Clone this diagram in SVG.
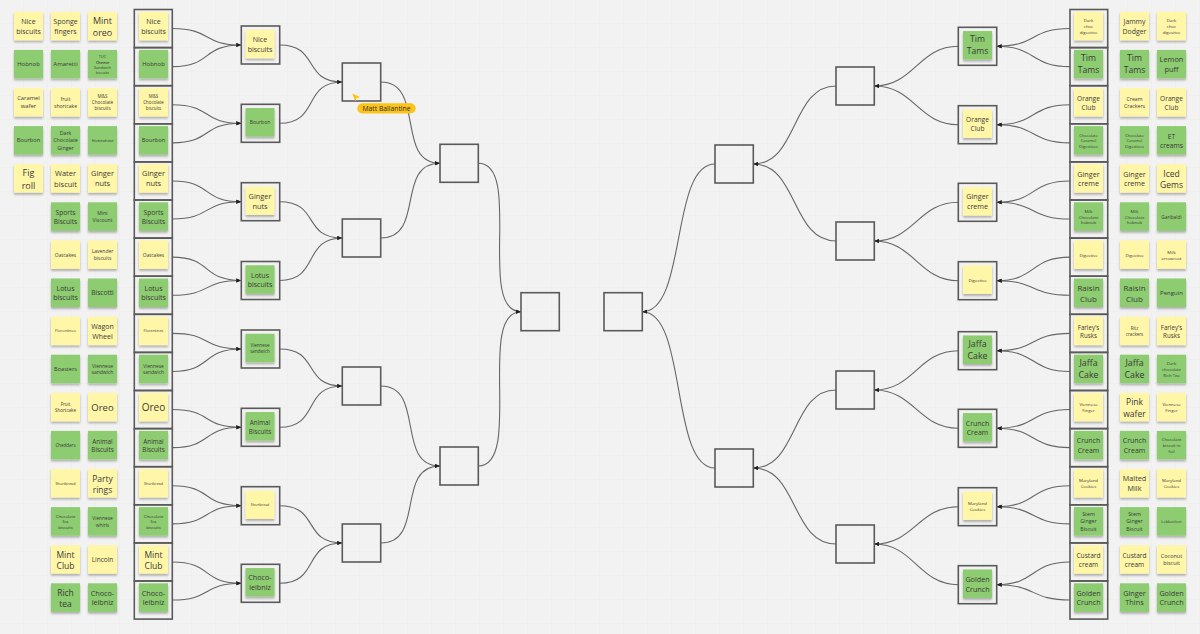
<svg xmlns="http://www.w3.org/2000/svg" width="1200" height="634" viewBox="0 0 1200 634">
<defs>
<style>
.t{font-family:"Open Sans","Liberation Sans",sans-serif;fill:#3a3a3a;text-anchor:middle;dominant-baseline:central}
.y{fill:#fff6a8;filter:url(#sh)}
.g{fill:#8dcc6f;filter:url(#sh)}
.fr{fill:none;stroke:#5a5a5a;stroke-width:1.6}
.c{fill:none;stroke:#666;stroke-width:1.1;marker-end:url(#arr)}
</style>
<filter id="sh" x="-20%" y="-20%" width="140%" height="160%"><feDropShadow dx="0" dy="2" stdDeviation="1" flood-color="#000" flood-opacity="0.28"/></filter>
<marker id="arr" viewBox="0 0 10 10" refX="10" refY="5" markerWidth="5" markerHeight="5" orient="auto" markerUnits="userSpaceOnUse"><path d="M0,1 L10,5 L0,9 z" fill="#222"/></marker>
<pattern id="grid" width="24" height="24" patternUnits="userSpaceOnUse"><path d="M24,0 V24 M0,24 H24" fill="none" stroke="#e9e9e9" stroke-width="0.6"/></pattern>
</defs>
<rect width="1200" height="634" fill="#f2f2f2"/>
<rect width="1200" height="634" fill="url(#grid)"/>

<!-- connectors -->
<g id="connectors">
<path class="c" d="M172.3 28.55 C212.3 28.55 201.3 45 241.3 45"/>
<path class="c" d="M172.3 66.65 C212.3 66.65 201.3 45 241.3 45"/>
<path class="c" d="M172.3 104.75 C212.3 104.75 201.3 123.3 241.3 123.3"/>
<path class="c" d="M172.3 142.85 C212.3 142.85 201.3 123.3 241.3 123.3"/>
<path class="c" d="M172.3 180.95 C212.3 180.95 201.3 201.7 241.3 201.7"/>
<path class="c" d="M172.3 219.05 C212.3 219.05 201.3 201.7 241.3 201.7"/>
<path class="c" d="M172.3 257.15 C212.3 257.15 201.3 280.5 241.3 280.5"/>
<path class="c" d="M172.3 295.25 C212.3 295.25 201.3 280.5 241.3 280.5"/>
<path class="c" d="M172.3 333.35 C212.3 333.35 201.3 349 241.3 349"/>
<path class="c" d="M172.3 371.45 C212.3 371.45 201.3 349 241.3 349"/>
<path class="c" d="M172.3 409.55 C212.3 409.55 201.3 427.3 241.3 427.3"/>
<path class="c" d="M172.3 447.65 C212.3 447.65 201.3 427.3 241.3 427.3"/>
<path class="c" d="M172.3 485.75 C212.3 485.75 201.3 505.7 241.3 505.7"/>
<path class="c" d="M172.3 523.85 C212.3 523.85 201.3 505.7 241.3 505.7"/>
<path class="c" d="M172.3 561.95 C212.3 561.95 201.3 583.3 241.3 583.3"/>
<path class="c" d="M172.3 600.05 C212.3 600.05 201.3 583.3 241.3 583.3"/>
<path class="c" d="M279.7 45 C319.7 45 302.3 82 342.3 82"/>
<path class="c" d="M279.7 123.3 C319.7 123.3 302.3 82 342.3 82"/>
<path class="c" d="M279.7 201.7 C319.7 201.7 302.3 238 342.3 238"/>
<path class="c" d="M279.7 280.5 C319.7 280.5 302.3 238 342.3 238"/>
<path class="c" d="M279.7 349 C319.7 349 302.3 386 342.3 386"/>
<path class="c" d="M279.7 427.3 C319.7 427.3 302.3 386 342.3 386"/>
<path class="c" d="M279.7 505.7 C319.7 505.7 302.3 543 342.3 543"/>
<path class="c" d="M279.7 583.3 C319.7 583.3 302.3 543 342.3 543"/>
<path class="c" d="M380.7 82 C425.7 82 395 163.3 440 163.3"/>
<path class="c" d="M380.7 238 C425.7 238 395 163.3 440 163.3"/>
<path class="c" d="M380.7 386 C425.7 386 395 466 440 466"/>
<path class="c" d="M380.7 543 C425.7 543 395 466 440 466"/>
<path class="c" d="M478.3 163.3 C523.3 163.3 476 311.7 521 311.7"/>
<path class="c" d="M478.3 466 C523.3 466 476 311.7 521 311.7"/>
<path class="c" d="M1070 28.55 C1030 28.55 1036.7 46.3 996.7 46.3"/>
<path class="c" d="M1070 66.65 C1030 66.65 1036.7 46.3 996.7 46.3"/>
<path class="c" d="M1070 104.75 C1030 104.75 1036.7 124.7 996.7 124.7"/>
<path class="c" d="M1070 142.85 C1030 142.85 1036.7 124.7 996.7 124.7"/>
<path class="c" d="M1070 180.95 C1030 180.95 1036.7 202.3 996.7 202.3"/>
<path class="c" d="M1070 219.05 C1030 219.05 1036.7 202.3 996.7 202.3"/>
<path class="c" d="M1070 257.15 C1030 257.15 1036.7 280.7 996.7 280.7"/>
<path class="c" d="M1070 295.25 C1030 295.25 1036.7 280.7 996.7 280.7"/>
<path class="c" d="M1070 333.35 C1030 333.35 1036.7 350.7 996.7 350.7"/>
<path class="c" d="M1070 371.45 C1030 371.45 1036.7 350.7 996.7 350.7"/>
<path class="c" d="M1070 409.55 C1030 409.55 1036.7 428.3 996.7 428.3"/>
<path class="c" d="M1070 447.65 C1030 447.65 1036.7 428.3 996.7 428.3"/>
<path class="c" d="M1070 485.75 C1030 485.75 1036.7 506.7 996.7 506.7"/>
<path class="c" d="M1070 523.85 C1030 523.85 1036.7 506.7 996.7 506.7"/>
<path class="c" d="M1070 561.95 C1030 561.95 1036.7 584.7 996.7 584.7"/>
<path class="c" d="M1070 600.05 C1030 600.05 1036.7 584.7 996.7 584.7"/>
<path class="c" d="M958.3 46.3 C918.3 46.3 914.3 86 874.3 86"/>
<path class="c" d="M958.3 124.7 C918.3 124.7 914.3 86 874.3 86"/>
<path class="c" d="M958.3 202.3 C918.3 202.3 914.3 241 874.3 241"/>
<path class="c" d="M958.3 280.7 C918.3 280.7 914.3 241 874.3 241"/>
<path class="c" d="M958.3 350.7 C918.3 350.7 914.3 390 874.3 390"/>
<path class="c" d="M958.3 428.3 C918.3 428.3 914.3 390 874.3 390"/>
<path class="c" d="M958.3 506.7 C918.3 506.7 914.3 544 874.3 544"/>
<path class="c" d="M958.3 584.7 C918.3 584.7 914.3 544 874.3 544"/>
<path class="c" d="M836 86 C791 86 798.3 164 753.3 164"/>
<path class="c" d="M836 241 C791 241 798.3 164 753.3 164"/>
<path class="c" d="M836 390 C791 390 798.3 468 753.3 468"/>
<path class="c" d="M836 544 C791 544 798.3 468 753.3 468"/>
<path class="c" d="M715 164 C670 164 687.3 311.7 642.3 311.7"/>
<path class="c" d="M715 468 C670 468 687.3 311.7 642.3 311.7"/>
</g>

<!-- left loose notes -->
<g id="a0"><rect class="y" x="14" y="11.8" width="29" height="28.5"/><text class="t" x="28.5" y="26.05" font-size="7"><tspan x="28.5" dy="-0.675em">Nice</tspan><tspan x="28.5" dy="1.35em">biscuits</tspan></text></g>
<g id="b0"><rect class="y" x="51" y="11.8" width="29" height="28.5"/><text class="t" x="65.5" y="26.05" font-size="7"><tspan x="65.5" dy="-0.675em">Sponge</tspan><tspan x="65.5" dy="1.35em">fingers</tspan></text></g>
<g id="c0"><rect class="y" x="88" y="11.8" width="29" height="28.5"/><text class="t" x="102.5" y="26.05" font-size="9"><tspan x="102.5" dy="-0.675em">Mint</tspan><tspan x="102.5" dy="1.35em">oreo</tspan></text></g>
<g id="a1"><rect class="g" x="14" y="49.9" width="29" height="28.5"/><text class="t" x="28.5" y="64.15" font-size="6">Hobnob</text></g>
<g id="b1"><rect class="g" x="51" y="49.9" width="29" height="28.5"/><text class="t" x="65.5" y="64.15" font-size="6">Amaretti</text></g>
<g id="c1"><rect class="g" x="88" y="49.9" width="29" height="28.5"/><text class="t" x="102.5" y="64.15" font-size="3.8"><tspan x="102.5" dy="-2.025em">TUC</tspan><tspan x="102.5" dy="1.35em" font-weight="600">Cheese</tspan><tspan x="102.5" dy="1.35em">Sandwich</tspan><tspan x="102.5" dy="1.35em">biscuits</tspan></text></g>
<g id="a2"><rect class="y" x="14" y="88" width="29" height="28.5"/><text class="t" x="28.5" y="102.25" font-size="5.8"><tspan x="28.5" dy="-0.675em">Caramel</tspan><tspan x="28.5" dy="1.35em">wafer</tspan></text></g>
<g id="b2"><rect class="y" x="51" y="88" width="29" height="28.5"/><text class="t" x="65.5" y="102.25" font-size="5"><tspan x="65.5" dy="-0.675em">fruit</tspan><tspan x="65.5" dy="1.35em">shortcake</tspan></text></g>
<g id="c2"><rect class="y" x="88" y="88" width="29" height="28.5"/><text class="t" x="102.5" y="102.25" font-size="4.6"><tspan x="102.5" dy="-1.35em">M&amp;S</tspan><tspan x="102.5" dy="1.35em">Chocolate</tspan><tspan x="102.5" dy="1.35em">biscuits</tspan></text></g>
<g id="a3"><rect class="g" x="14" y="126.1" width="29" height="28.5"/><text class="t" x="28.5" y="140.35" font-size="5.7">Bourbon</text></g>
<g id="b3"><rect class="g" x="51" y="126.1" width="29" height="28.5"/><text class="t" x="65.5" y="140.35" font-size="5.3"><tspan x="65.5" dy="-1.35em">Dark</tspan><tspan x="65.5" dy="1.35em">Chocolate</tspan><tspan x="65.5" dy="1.35em">Ginger</tspan></text></g>
<g id="c3"><rect class="g" x="88" y="126.1" width="29" height="28.5"/><text class="t" x="102.5" y="140.35" font-size="3.8">Homewheat</text></g>
<g id="a4"><rect class="y" x="14" y="164.2" width="29" height="28.5"/><text class="t" x="28.5" y="178.45" font-size="9"><tspan x="28.5" dy="-0.675em">Fig</tspan><tspan x="28.5" dy="1.35em">roll</tspan></text></g>
<g id="b4"><rect class="y" x="51" y="164.2" width="29" height="28.5"/><text class="t" x="65.5" y="178.45" font-size="7.5"><tspan x="65.5" dy="-0.675em">Water</tspan><tspan x="65.5" dy="1.35em">biscuit</tspan></text></g>
<g id="c4"><rect class="y" x="88" y="164.2" width="29" height="28.5"/><text class="t" x="102.5" y="178.45" font-size="7.4"><tspan x="102.5" dy="-0.675em">Ginger</tspan><tspan x="102.5" dy="1.35em">nuts</tspan></text></g>
<g id="b5"><rect class="g" x="51" y="202.3" width="29" height="28.5"/><text class="t" x="65.5" y="216.55" font-size="6.6"><tspan x="65.5" dy="-0.675em">Sports</tspan><tspan x="65.5" dy="1.35em">Biscuits</tspan></text></g>
<g id="c5"><rect class="g" x="88" y="202.3" width="29" height="28.5"/><text class="t" x="102.5" y="216.55" font-size="5"><tspan x="102.5" dy="-0.675em">Mint</tspan><tspan x="102.5" dy="1.35em">Viscount</tspan></text></g>
<g id="b6"><rect class="y" x="51" y="240.4" width="29" height="28.5"/><text class="t" x="65.5" y="254.65" font-size="5">Oatcakes</text></g>
<g id="c6"><rect class="y" x="88" y="240.4" width="29" height="28.5"/><text class="t" x="102.5" y="254.65" font-size="5"><tspan x="102.5" dy="-0.675em">Lavender</tspan><tspan x="102.5" dy="1.35em">biscuits</tspan></text></g>
<g id="b7"><rect class="g" x="51" y="278.5" width="29" height="28.5"/><text class="t" x="65.5" y="292.75" font-size="7"><tspan x="65.5" dy="-0.675em">Lotus</tspan><tspan x="65.5" dy="1.35em">biscuits</tspan></text></g>
<g id="c7"><rect class="g" x="88" y="278.5" width="29" height="28.5"/><text class="t" x="102.5" y="292.75" font-size="6.6">Biscotti</text></g>
<g id="b8"><rect class="y" x="51" y="316.6" width="29" height="28.5"/><text class="t" x="65.5" y="330.85" font-size="4">Florentines</text></g>
<g id="c8"><rect class="y" x="88" y="316.6" width="29" height="28.5"/><text class="t" x="102.5" y="330.85" font-size="7"><tspan x="102.5" dy="-0.675em">Wagon</tspan><tspan x="102.5" dy="1.35em">Wheel</tspan></text></g>
<g id="b9"><rect class="g" x="51" y="354.7" width="29" height="28.5"/><text class="t" x="65.5" y="368.95" font-size="5.6">Boasters</text></g>
<g id="c9"><rect class="g" x="88" y="354.7" width="29" height="28.5"/><text class="t" x="102.5" y="368.95" font-size="5"><tspan x="102.5" dy="-0.675em">Viennese</tspan><tspan x="102.5" dy="1.35em">sandwich</tspan></text></g>
<g id="b10"><rect class="y" x="51" y="392.8" width="29" height="28.5"/><text class="t" x="65.5" y="407.05" font-size="4.5"><tspan x="65.5" dy="-0.675em">Fruit</tspan><tspan x="65.5" dy="1.35em">Shortcake</tspan></text></g>
<g id="c10"><rect class="y" x="88" y="392.8" width="29" height="28.5"/><text class="t" x="102.5" y="407.05" font-size="9.5">Oreo</text></g>
<g id="b11"><rect class="g" x="51" y="430.9" width="29" height="28.5"/><text class="t" x="65.5" y="445.15" font-size="4.5">Cheddars</text></g>
<g id="c11"><rect class="g" x="88" y="430.9" width="29" height="28.5"/><text class="t" x="102.5" y="445.15" font-size="6.3"><tspan x="102.5" dy="-0.675em">Animal</tspan><tspan x="102.5" dy="1.35em">Biscuits</tspan></text></g>
<g id="b12"><rect class="y" x="51" y="469" width="29" height="28.5"/><text class="t" x="65.5" y="483.25" font-size="3.8">Shortbread</text></g>
<g id="c12"><rect class="y" x="88" y="469" width="29" height="28.5"/><text class="t" x="102.5" y="483.25" font-size="8.5"><tspan x="102.5" dy="-0.675em">Party</tspan><tspan x="102.5" dy="1.35em">rings</tspan></text></g>
<g id="b13"><rect class="g" x="51" y="507.1" width="29" height="28.5"/><text class="t" x="65.5" y="521.35" font-size="4.2"><tspan x="65.5" dy="-1.35em">Chocolate</tspan><tspan x="65.5" dy="1.35em">fox</tspan><tspan x="65.5" dy="1.35em">biscuits</tspan></text></g>
<g id="c13"><rect class="g" x="88" y="507.1" width="29" height="28.5"/><text class="t" x="102.5" y="521.35" font-size="4.8"><tspan x="102.5" dy="-0.675em">Viennese</tspan><tspan x="102.5" dy="1.35em">whirls</tspan></text></g>
<g id="b14"><rect class="y" x="51" y="545.2" width="29" height="28.5"/><text class="t" x="65.5" y="559.45" font-size="8.5"><tspan x="65.5" dy="-0.675em">Mint</tspan><tspan x="65.5" dy="1.35em">Club</tspan></text></g>
<g id="c14"><rect class="y" x="88" y="545.2" width="29" height="28.5"/><text class="t" x="102.5" y="559.45" font-size="6.5">Lincoln</text></g>
<g id="b15"><rect class="g" x="51" y="583.3" width="29" height="28.5"/><text class="t" x="65.5" y="597.55" font-size="8.5"><tspan x="65.5" dy="-0.675em">Rich</tspan><tspan x="65.5" dy="1.35em">tea</tspan></text></g>
<g id="c15"><rect class="g" x="88" y="583.3" width="29" height="28.5"/><text class="t" x="102.5" y="597.55" font-size="7.2"><tspan x="102.5" dy="-0.675em">Choco-</tspan><tspan x="102.5" dy="1.35em">leibniz</tspan></text></g>

<!-- left round 1 -->
<g id="l1-0"><rect class="fr" x="134.3" y="9.5" width="38" height="38.1"/><rect class="y" x="139" y="11.8" width="29" height="28.5"/><text class="t" x="153.5" y="26.05" font-size="7"><tspan x="153.5" dy="-0.675em">Nice</tspan><tspan x="153.5" dy="1.35em">biscuits</tspan></text></g>
<g id="l1-1"><rect class="fr" x="134.3" y="47.6" width="38" height="38.1"/><rect class="g" x="139" y="49.9" width="29" height="28.5"/><text class="t" x="153.5" y="64.15" font-size="6">Hobnob</text></g>
<g id="l1-2"><rect class="fr" x="134.3" y="85.7" width="38" height="38.1"/><rect class="y" x="139" y="88" width="29" height="28.5"/><text class="t" x="153.5" y="102.25" font-size="4.4"><tspan x="153.5" dy="-1.35em">M&amp;S</tspan><tspan x="153.5" dy="1.35em">Chocolate</tspan><tspan x="153.5" dy="1.35em">biscuits</tspan></text></g>
<g id="l1-3"><rect class="fr" x="134.3" y="123.8" width="38" height="38.1"/><rect class="g" x="139" y="126.1" width="29" height="28.5"/><text class="t" x="153.5" y="140.35" font-size="5.7">Bourbon</text></g>
<g id="l1-4"><rect class="fr" x="134.3" y="161.9" width="38" height="38.1"/><rect class="y" x="139" y="164.2" width="29" height="28.5"/><text class="t" x="153.5" y="178.45" font-size="7.4"><tspan x="153.5" dy="-0.675em">Ginger</tspan><tspan x="153.5" dy="1.35em">nuts</tspan></text></g>
<g id="l1-5"><rect class="fr" x="134.3" y="200" width="38" height="38.1"/><rect class="g" x="139" y="202.3" width="29" height="28.5"/><text class="t" x="153.5" y="216.55" font-size="6.6"><tspan x="153.5" dy="-0.675em">Sports</tspan><tspan x="153.5" dy="1.35em">Biscuits</tspan></text></g>
<g id="l1-6"><rect class="fr" x="134.3" y="238.1" width="38" height="38.1"/><rect class="y" x="139" y="240.4" width="29" height="28.5"/><text class="t" x="153.5" y="254.65" font-size="5">Oatcakes</text></g>
<g id="l1-7"><rect class="fr" x="134.3" y="276.2" width="38" height="38.1"/><rect class="g" x="139" y="278.5" width="29" height="28.5"/><text class="t" x="153.5" y="292.75" font-size="7"><tspan x="153.5" dy="-0.675em">Lotus</tspan><tspan x="153.5" dy="1.35em">biscuits</tspan></text></g>
<g id="l1-8"><rect class="fr" x="134.3" y="314.3" width="38" height="38.1"/><rect class="y" x="139" y="316.6" width="29" height="28.5"/><text class="t" x="153.5" y="330.85" font-size="3.8">Florentines</text></g>
<g id="l1-9"><rect class="fr" x="134.3" y="352.4" width="38" height="38.1"/><rect class="g" x="139" y="354.7" width="29" height="28.5"/><text class="t" x="153.5" y="368.95" font-size="4.8"><tspan x="153.5" dy="-0.675em">Viennese</tspan><tspan x="153.5" dy="1.35em">sandwich</tspan></text></g>
<g id="l1-10"><rect class="fr" x="134.3" y="390.5" width="38" height="38.1"/><rect class="y" x="139" y="392.8" width="29" height="28.5"/><text class="t" x="153.5" y="407.05" font-size="10">Oreo</text></g>
<g id="l1-11"><rect class="fr" x="134.3" y="428.6" width="38" height="38.1"/><rect class="g" x="139" y="430.9" width="29" height="28.5"/><text class="t" x="153.5" y="445.15" font-size="6.3"><tspan x="153.5" dy="-0.675em">Animal</tspan><tspan x="153.5" dy="1.35em">Biscuits</tspan></text></g>
<g id="l1-12"><rect class="fr" x="134.3" y="466.7" width="38" height="38.1"/><rect class="y" x="139" y="469" width="29" height="28.5"/><text class="t" x="153.5" y="483.25" font-size="3.6">Shortbread</text></g>
<g id="l1-13"><rect class="fr" x="134.3" y="504.8" width="38" height="38.1"/><rect class="g" x="139" y="507.1" width="29" height="28.5"/><text class="t" x="153.5" y="521.35" font-size="4.2"><tspan x="153.5" dy="-1.35em">Chocolate</tspan><tspan x="153.5" dy="1.35em">fox</tspan><tspan x="153.5" dy="1.35em">biscuits</tspan></text></g>
<g id="l1-14"><rect class="fr" x="134.3" y="542.9" width="38" height="38.1"/><rect class="y" x="139" y="545.2" width="29" height="28.5"/><text class="t" x="153.5" y="559.45" font-size="8.5"><tspan x="153.5" dy="-0.675em">Mint</tspan><tspan x="153.5" dy="1.35em">Club</tspan></text></g>
<g id="l1-15"><rect class="fr" x="134.3" y="581" width="38" height="38.1"/><rect class="g" x="139" y="583.3" width="29" height="28.5"/><text class="t" x="153.5" y="597.55" font-size="7.2"><tspan x="153.5" dy="-0.675em">Choco-</tspan><tspan x="153.5" dy="1.35em">leibniz</tspan></text></g>

<!-- left round 2 -->
<g id="l2-0"><rect class="fr" x="241.3" y="26" width="38.4" height="38"/><rect class="y" x="245.5" y="29.75" width="29" height="28.5"/><text class="t" x="260" y="44" font-size="7"><tspan x="260" dy="-0.675em">Nice</tspan><tspan x="260" dy="1.35em">biscuits</tspan></text></g>
<g id="l2-1"><rect class="fr" x="241.3" y="104.3" width="38.4" height="38"/><rect class="g" x="245.5" y="108.05" width="29" height="28.5"/><text class="t" x="260" y="122.3" font-size="5">Bourbon</text></g>
<g id="l2-2"><rect class="fr" x="241.3" y="182.7" width="38.4" height="38"/><rect class="y" x="245.5" y="186.45" width="29" height="28.5"/><text class="t" x="260" y="200.7" font-size="7.4"><tspan x="260" dy="-0.675em">Ginger</tspan><tspan x="260" dy="1.35em">nuts</tspan></text></g>
<g id="l2-3"><rect class="fr" x="241.3" y="261.5" width="38.4" height="38"/><rect class="g" x="245.5" y="265.25" width="29" height="28.5"/><text class="t" x="260" y="279.5" font-size="7"><tspan x="260" dy="-0.675em">Lotus</tspan><tspan x="260" dy="1.35em">biscuits</tspan></text></g>
<g id="l2-4"><rect class="fr" x="241.3" y="330" width="38.4" height="38"/><rect class="g" x="245.5" y="333.75" width="29" height="28.5"/><text class="t" x="260" y="348" font-size="4.5"><tspan x="260" dy="-0.675em">Viennese</tspan><tspan x="260" dy="1.35em">sandwich</tspan></text></g>
<g id="l2-5"><rect class="fr" x="241.3" y="408.3" width="38.4" height="38"/><rect class="g" x="245.5" y="412.05" width="29" height="28.5"/><text class="t" x="260" y="426.3" font-size="6.3"><tspan x="260" dy="-0.675em">Animal</tspan><tspan x="260" dy="1.35em">Biscuits</tspan></text></g>
<g id="l2-6"><rect class="fr" x="241.3" y="486.7" width="38.4" height="38"/><rect class="y" x="245.5" y="490.45" width="29" height="28.5"/><text class="t" x="260" y="504.7" font-size="3.5">Shortbread</text></g>
<g id="l2-7"><rect class="fr" x="241.3" y="564.3" width="38.4" height="38"/><rect class="g" x="245.5" y="568.05" width="29" height="28.5"/><text class="t" x="260" y="582.3" font-size="7.2"><tspan x="260" dy="-0.675em">Choco-</tspan><tspan x="260" dy="1.35em">leibniz</tspan></text></g>

<!-- empty boxes -->
<g id="l3-0"><rect class="fr" x="342.3" y="63" width="38.4" height="38"/></g>
<g id="l3-1"><rect class="fr" x="342.3" y="219" width="38.4" height="38"/></g>
<g id="l3-2"><rect class="fr" x="342.3" y="367" width="38.4" height="38"/></g>
<g id="l3-3"><rect class="fr" x="342.3" y="524" width="38.4" height="38"/></g>
<g id="l4-0"><rect class="fr" x="440" y="144.3" width="38.3" height="38"/></g>
<g id="l4-1"><rect class="fr" x="440" y="447" width="38.3" height="38"/></g>
<g id="final-l"><rect class="fr" x="521" y="292.7" width="38.3" height="38"/></g>
<g id="final-r"><rect class="fr" x="604" y="292.7" width="38.3" height="38"/></g>
<g id="r4-0"><rect class="fr" x="715" y="145" width="38.3" height="38"/></g>
<g id="r4-1"><rect class="fr" x="715" y="449" width="38.3" height="38"/></g>
<g id="r3-0"><rect class="fr" x="836" y="67" width="38.3" height="38"/></g>
<g id="r3-1"><rect class="fr" x="836" y="222" width="38.3" height="38"/></g>
<g id="r3-2"><rect class="fr" x="836" y="371" width="38.3" height="38"/></g>
<g id="r3-3"><rect class="fr" x="836" y="525" width="38.3" height="38"/></g>

<!-- right round 2 -->
<g id="r2-0"><rect class="fr" x="958.3" y="27.3" width="38.4" height="38"/><rect class="g" x="963" y="31.05" width="29" height="28.5"/><text class="t" x="977.5" y="45.3" font-size="8.6"><tspan x="977.5" dy="-0.675em">Tim</tspan><tspan x="977.5" dy="1.35em">Tams</tspan></text></g>
<g id="r2-1"><rect class="fr" x="958.3" y="105.7" width="38.4" height="38"/><rect class="y" x="963" y="109.45" width="29" height="28.5"/><text class="t" x="977.5" y="123.7" font-size="6.6"><tspan x="977.5" dy="-0.675em">Orange</tspan><tspan x="977.5" dy="1.35em">Club</tspan></text></g>
<g id="r2-2"><rect class="fr" x="958.3" y="183.3" width="38.4" height="38"/><rect class="y" x="963" y="187.05" width="29" height="28.5"/><text class="t" x="977.5" y="201.3" font-size="7.2"><tspan x="977.5" dy="-0.675em">Ginger</tspan><tspan x="977.5" dy="1.35em">creme</tspan></text></g>
<g id="r2-3"><rect class="fr" x="958.3" y="261.7" width="38.4" height="38"/><rect class="y" x="963" y="265.45" width="29" height="28.5"/><text class="t" x="977.5" y="279.7" font-size="4.3">Digestive</text></g>
<g id="r2-4"><rect class="fr" x="958.3" y="331.7" width="38.4" height="38"/><rect class="g" x="963" y="335.45" width="29" height="28.5"/><text class="t" x="977.5" y="349.7" font-size="8.8"><tspan x="977.5" dy="-0.675em">Jaffa</tspan><tspan x="977.5" dy="1.35em">Cake</tspan></text></g>
<g id="r2-5"><rect class="fr" x="958.3" y="409.3" width="38.4" height="38"/><rect class="g" x="963" y="413.05" width="29" height="28.5"/><text class="t" x="977.5" y="427.3" font-size="7"><tspan x="977.5" dy="-0.675em">Crunch</tspan><tspan x="977.5" dy="1.35em">Cream</tspan></text></g>
<g id="r2-6"><rect class="fr" x="958.3" y="487.7" width="38.4" height="38"/><rect class="y" x="963" y="491.45" width="29" height="28.5"/><text class="t" x="977.5" y="505.7" font-size="4.3"><tspan x="977.5" dy="-0.675em">Maryland</tspan><tspan x="977.5" dy="1.35em">Cookies</tspan></text></g>
<g id="r2-7"><rect class="fr" x="958.3" y="565.7" width="38.4" height="38"/><rect class="g" x="963" y="569.45" width="29" height="28.5"/><text class="t" x="977.5" y="583.7" font-size="7.2"><tspan x="977.5" dy="-0.675em">Golden</tspan><tspan x="977.5" dy="1.35em">Crunch</tspan></text></g>

<!-- right round 1 -->
<g id="r1-0"><rect class="fr" x="1070" y="9.5" width="37.7" height="38.1"/><rect class="y" x="1074" y="11.8" width="29" height="28.5"/><text class="t" x="1088.5" y="26.05" font-size="4.3"><tspan x="1088.5" dy="-1.35em">Dark</tspan><tspan x="1088.5" dy="1.35em">choc</tspan><tspan x="1088.5" dy="1.35em">digestive</tspan></text></g>
<g id="r1-1"><rect class="fr" x="1070" y="47.6" width="37.7" height="38.1"/><rect class="g" x="1074" y="49.9" width="29" height="28.5"/><text class="t" x="1088.5" y="64.15" font-size="8.6"><tspan x="1088.5" dy="-0.675em">Tim</tspan><tspan x="1088.5" dy="1.35em">Tams</tspan></text></g>
<g id="r1-2"><rect class="fr" x="1070" y="85.7" width="37.7" height="38.1"/><rect class="y" x="1074" y="88" width="29" height="28.5"/><text class="t" x="1088.5" y="102.25" font-size="6.6"><tspan x="1088.5" dy="-0.675em">Orange</tspan><tspan x="1088.5" dy="1.35em">Club</tspan></text></g>
<g id="r1-3"><rect class="fr" x="1070" y="123.8" width="37.7" height="38.1"/><rect class="g" x="1074" y="126.1" width="29" height="28.5"/><text class="t" x="1088.5" y="140.35" font-size="4"><tspan x="1088.5" dy="-1.35em">Chocolate</tspan><tspan x="1088.5" dy="1.35em">Caramel</tspan><tspan x="1088.5" dy="1.35em">Digestives</tspan></text></g>
<g id="r1-4"><rect class="fr" x="1070" y="161.9" width="37.7" height="38.1"/><rect class="y" x="1074" y="164.2" width="29" height="28.5"/><text class="t" x="1088.5" y="178.45" font-size="7.2"><tspan x="1088.5" dy="-0.675em">Ginger</tspan><tspan x="1088.5" dy="1.35em">creme</tspan></text></g>
<g id="r1-5"><rect class="fr" x="1070" y="200" width="37.7" height="38.1"/><rect class="g" x="1074" y="202.3" width="29" height="28.5"/><text class="t" x="1088.5" y="216.55" font-size="4.2"><tspan x="1088.5" dy="-1.35em">Milk</tspan><tspan x="1088.5" dy="1.35em">Chocolate</tspan><tspan x="1088.5" dy="1.35em">hobnob</tspan></text></g>
<g id="r1-6"><rect class="fr" x="1070" y="238.1" width="37.7" height="38.1"/><rect class="y" x="1074" y="240.4" width="29" height="28.5"/><text class="t" x="1088.5" y="254.65" font-size="4.3">Digestive</text></g>
<g id="r1-7"><rect class="fr" x="1070" y="276.2" width="37.7" height="38.1"/><rect class="g" x="1074" y="278.5" width="29" height="28.5"/><text class="t" x="1088.5" y="292.75" font-size="8"><tspan x="1088.5" dy="-0.675em">Raisin</tspan><tspan x="1088.5" dy="1.35em">Club</tspan></text></g>
<g id="r1-8"><rect class="fr" x="1070" y="314.3" width="37.7" height="38.1"/><rect class="y" x="1074" y="316.6" width="29" height="28.5"/><text class="t" x="1088.5" y="330.85" font-size="6.2"><tspan x="1088.5" dy="-0.675em">Farley's</tspan><tspan x="1088.5" dy="1.35em">Rusks</tspan></text></g>
<g id="r1-9"><rect class="fr" x="1070" y="352.4" width="37.7" height="38.1"/><rect class="g" x="1074" y="354.7" width="29" height="28.5"/><text class="t" x="1088.5" y="368.95" font-size="8.8"><tspan x="1088.5" dy="-0.675em">Jaffa</tspan><tspan x="1088.5" dy="1.35em">Cake</tspan></text></g>
<g id="r1-10"><rect class="fr" x="1070" y="390.5" width="37.7" height="38.1"/><rect class="y" x="1074" y="392.8" width="29" height="28.5"/><text class="t" x="1088.5" y="407.05" font-size="4.3"><tspan x="1088.5" dy="-0.675em">Viennese</tspan><tspan x="1088.5" dy="1.35em">Finger</tspan></text></g>
<g id="r1-11"><rect class="fr" x="1070" y="428.6" width="37.7" height="38.1"/><rect class="g" x="1074" y="430.9" width="29" height="28.5"/><text class="t" x="1088.5" y="445.15" font-size="7"><tspan x="1088.5" dy="-0.675em">Crunch</tspan><tspan x="1088.5" dy="1.35em">Cream</tspan></text></g>
<g id="r1-12"><rect class="fr" x="1070" y="466.7" width="37.7" height="38.1"/><rect class="y" x="1074" y="469" width="29" height="28.5"/><text class="t" x="1088.5" y="483.25" font-size="4.3"><tspan x="1088.5" dy="-0.675em">Maryland</tspan><tspan x="1088.5" dy="1.35em">Cookies</tspan></text></g>
<g id="r1-13"><rect class="fr" x="1070" y="504.8" width="37.7" height="38.1"/><rect class="g" x="1074" y="507.1" width="29" height="28.5"/><text class="t" x="1088.5" y="521.35" font-size="5.3"><tspan x="1088.5" dy="-1.35em">Stem</tspan><tspan x="1088.5" dy="1.35em">Ginger</tspan><tspan x="1088.5" dy="1.35em">Biscuit</tspan></text></g>
<g id="r1-14"><rect class="fr" x="1070" y="542.9" width="37.7" height="38.1"/><rect class="y" x="1074" y="545.2" width="29" height="28.5"/><text class="t" x="1088.5" y="559.45" font-size="6.6"><tspan x="1088.5" dy="-0.675em">Custard</tspan><tspan x="1088.5" dy="1.35em">cream</tspan></text></g>
<g id="r1-15"><rect class="fr" x="1070" y="581" width="37.7" height="38.1"/><rect class="g" x="1074" y="583.3" width="29" height="28.5"/><text class="t" x="1088.5" y="597.55" font-size="7.2"><tspan x="1088.5" dy="-0.675em">Golden</tspan><tspan x="1088.5" dy="1.35em">Crunch</tspan></text></g>

<!-- right loose notes -->
<g id="d0"><rect class="y" x="1120" y="11.8" width="29" height="28.5"/><text class="t" x="1134.5" y="26.05" font-size="6.9"><tspan x="1134.5" dy="-0.675em">Jammy</tspan><tspan x="1134.5" dy="1.35em">Dodger</tspan></text></g>
<g id="e0"><rect class="y" x="1157" y="11.8" width="29" height="28.5"/><text class="t" x="1171.5" y="26.05" font-size="4.3"><tspan x="1171.5" dy="-1.35em">Dark</tspan><tspan x="1171.5" dy="1.35em">choc</tspan><tspan x="1171.5" dy="1.35em">digestive</tspan></text></g>
<g id="d1"><rect class="g" x="1120" y="49.9" width="29" height="28.5"/><text class="t" x="1134.5" y="64.15" font-size="8.6"><tspan x="1134.5" dy="-0.675em">Tim</tspan><tspan x="1134.5" dy="1.35em">Tams</tspan></text></g>
<g id="e1"><rect class="g" x="1157" y="49.9" width="29" height="28.5"/><text class="t" x="1171.5" y="64.15" font-size="7.4"><tspan x="1171.5" dy="-0.675em">Lemon</tspan><tspan x="1171.5" dy="1.35em">puff</tspan></text></g>
<g id="d2"><rect class="y" x="1120" y="88" width="29" height="28.5"/><text class="t" x="1134.5" y="102.25" font-size="5.2"><tspan x="1134.5" dy="-0.675em">Cream</tspan><tspan x="1134.5" dy="1.35em">Crackers</tspan></text></g>
<g id="e2"><rect class="y" x="1157" y="88" width="29" height="28.5"/><text class="t" x="1171.5" y="102.25" font-size="6.6"><tspan x="1171.5" dy="-0.675em">Orange</tspan><tspan x="1171.5" dy="1.35em">Club</tspan></text></g>
<g id="d3"><rect class="g" x="1120" y="126.1" width="29" height="28.5"/><text class="t" x="1134.5" y="140.35" font-size="4"><tspan x="1134.5" dy="-1.35em">Chocolate</tspan><tspan x="1134.5" dy="1.35em">Caramel</tspan><tspan x="1134.5" dy="1.35em">Digestives</tspan></text></g>
<g id="e3"><rect class="g" x="1157" y="126.1" width="29" height="28.5"/><text class="t" x="1171.5" y="140.35" font-size="6.8"><tspan x="1171.5" dy="-0.675em">ET</tspan><tspan x="1171.5" dy="1.35em">creams</tspan></text></g>
<g id="d4"><rect class="y" x="1120" y="164.2" width="29" height="28.5"/><text class="t" x="1134.5" y="178.45" font-size="7.2"><tspan x="1134.5" dy="-0.675em">Ginger</tspan><tspan x="1134.5" dy="1.35em">creme</tspan></text></g>
<g id="e4"><rect class="y" x="1157" y="164.2" width="29" height="28.5"/><text class="t" x="1171.5" y="178.45" font-size="8.5"><tspan x="1171.5" dy="-0.675em">Iced</tspan><tspan x="1171.5" dy="1.35em">Gems</tspan></text></g>
<g id="d5"><rect class="g" x="1120" y="202.3" width="29" height="28.5"/><text class="t" x="1134.5" y="216.55" font-size="4.2"><tspan x="1134.5" dy="-1.35em">Milk</tspan><tspan x="1134.5" dy="1.35em">Chocolate</tspan><tspan x="1134.5" dy="1.35em">hobnob</tspan></text></g>
<g id="e5"><rect class="g" x="1157" y="202.3" width="29" height="28.5"/><text class="t" x="1171.5" y="216.55" font-size="4.8">Garibaldi</text></g>
<g id="d6"><rect class="y" x="1120" y="240.4" width="29" height="28.5"/><text class="t" x="1134.5" y="254.65" font-size="4.3">Digestive</text></g>
<g id="e6"><rect class="y" x="1157" y="240.4" width="29" height="28.5"/><text class="t" x="1171.5" y="254.65" font-size="4.3"><tspan x="1171.5" dy="-0.675em">Milk</tspan><tspan x="1171.5" dy="1.35em">arrowroot</tspan></text></g>
<g id="d7"><rect class="g" x="1120" y="278.5" width="29" height="28.5"/><text class="t" x="1134.5" y="292.75" font-size="8"><tspan x="1134.5" dy="-0.675em">Raisin</tspan><tspan x="1134.5" dy="1.35em">Club</tspan></text></g>
<g id="e7"><rect class="g" x="1157" y="278.5" width="29" height="28.5"/><text class="t" x="1171.5" y="292.75" font-size="6">Penguin</text></g>
<g id="d8"><rect class="y" x="1120" y="316.6" width="29" height="28.5"/><text class="t" x="1134.5" y="330.85" font-size="4.5"><tspan x="1134.5" dy="-0.675em">Ritz</tspan><tspan x="1134.5" dy="1.35em">crackers</tspan></text></g>
<g id="e8"><rect class="y" x="1157" y="316.6" width="29" height="28.5"/><text class="t" x="1171.5" y="330.85" font-size="6.2"><tspan x="1171.5" dy="-0.675em">Farley's</tspan><tspan x="1171.5" dy="1.35em">Rusks</tspan></text></g>
<g id="d9"><rect class="g" x="1120" y="354.7" width="29" height="28.5"/><text class="t" x="1134.5" y="368.95" font-size="8.8"><tspan x="1134.5" dy="-0.675em">Jaffa</tspan><tspan x="1134.5" dy="1.35em">Cake</tspan></text></g>
<g id="e9"><rect class="g" x="1157" y="354.7" width="29" height="28.5"/><text class="t" x="1171.5" y="368.95" font-size="4.2"><tspan x="1171.5" dy="-1.35em">Dark</tspan><tspan x="1171.5" dy="1.35em">chocolate</tspan><tspan x="1171.5" dy="1.35em">Rich Tea</tspan></text></g>
<g id="d10"><rect class="y" x="1120" y="392.8" width="29" height="28.5"/><text class="t" x="1134.5" y="407.05" font-size="8.5"><tspan x="1134.5" dy="-0.675em">Pink</tspan><tspan x="1134.5" dy="1.35em">wafer</tspan></text></g>
<g id="e10"><rect class="y" x="1157" y="392.8" width="29" height="28.5"/><text class="t" x="1171.5" y="407.05" font-size="4.3"><tspan x="1171.5" dy="-0.675em">Viennese</tspan><tspan x="1171.5" dy="1.35em">Finger</tspan></text></g>
<g id="d11"><rect class="g" x="1120" y="430.9" width="29" height="28.5"/><text class="t" x="1134.5" y="445.15" font-size="7"><tspan x="1134.5" dy="-0.675em">Crunch</tspan><tspan x="1134.5" dy="1.35em">Cream</tspan></text></g>
<g id="e11"><rect class="g" x="1157" y="430.9" width="29" height="28.5"/><text class="t" x="1171.5" y="445.15" font-size="4.2"><tspan x="1171.5" dy="-1.35em">Chocolate</tspan><tspan x="1171.5" dy="1.35em">biscuit in</tspan><tspan x="1171.5" dy="1.35em">foil</tspan></text></g>
<g id="d12"><rect class="y" x="1120" y="469" width="29" height="28.5"/><text class="t" x="1134.5" y="483.25" font-size="7.2"><tspan x="1134.5" dy="-0.675em">Malted</tspan><tspan x="1134.5" dy="1.35em">Milk</tspan></text></g>
<g id="e12"><rect class="y" x="1157" y="469" width="29" height="28.5"/><text class="t" x="1171.5" y="483.25" font-size="4.3"><tspan x="1171.5" dy="-0.675em">Maryland</tspan><tspan x="1171.5" dy="1.35em">Cookies</tspan></text></g>
<g id="d13"><rect class="g" x="1120" y="507.1" width="29" height="28.5"/><text class="t" x="1134.5" y="521.35" font-size="5.3"><tspan x="1134.5" dy="-1.35em">Stem</tspan><tspan x="1134.5" dy="1.35em">Ginger</tspan><tspan x="1134.5" dy="1.35em">Biscuit</tspan></text></g>
<g id="e13"><rect class="g" x="1157" y="507.1" width="29" height="28.5"/><text class="t" x="1171.5" y="521.35" font-size="4">Lebkuchen</text></g>
<g id="d14"><rect class="y" x="1120" y="545.2" width="29" height="28.5"/><text class="t" x="1134.5" y="559.45" font-size="6.6"><tspan x="1134.5" dy="-0.675em">Custard</tspan><tspan x="1134.5" dy="1.35em">cream</tspan></text></g>
<g id="e14"><rect class="y" x="1157" y="545.2" width="29" height="28.5"/><text class="t" x="1171.5" y="559.45" font-size="5.5"><tspan x="1171.5" dy="-0.675em">Coconut</tspan><tspan x="1171.5" dy="1.35em">biscuit</tspan></text></g>
<g id="d15"><rect class="g" x="1120" y="583.3" width="29" height="28.5"/><text class="t" x="1134.5" y="597.55" font-size="7.3"><tspan x="1134.5" dy="-0.675em">Ginger</tspan><tspan x="1134.5" dy="1.35em">Thins</tspan></text></g>
<g id="e15"><rect class="g" x="1157" y="583.3" width="29" height="28.5"/><text class="t" x="1171.5" y="597.55" font-size="7.2"><tspan x="1171.5" dy="-0.675em">Golden</tspan><tspan x="1171.5" dy="1.35em">Crunch</tspan></text></g>

<!-- collaborator cursor -->
<g id="cursor">
<path d="M352.3 93.5 L360 97 L356.6 98.2 L355.2 101.2 Z" fill="#fcc419"/>
<rect x="357.3" y="103.3" width="58.4" height="10.2" rx="5.1" fill="#fcc419"/>
<text class="t" x="386.5" y="108.5" font-size="6.8" style="fill:#2b2b2b">Matt Ballantine</text>
</g>
</svg>
